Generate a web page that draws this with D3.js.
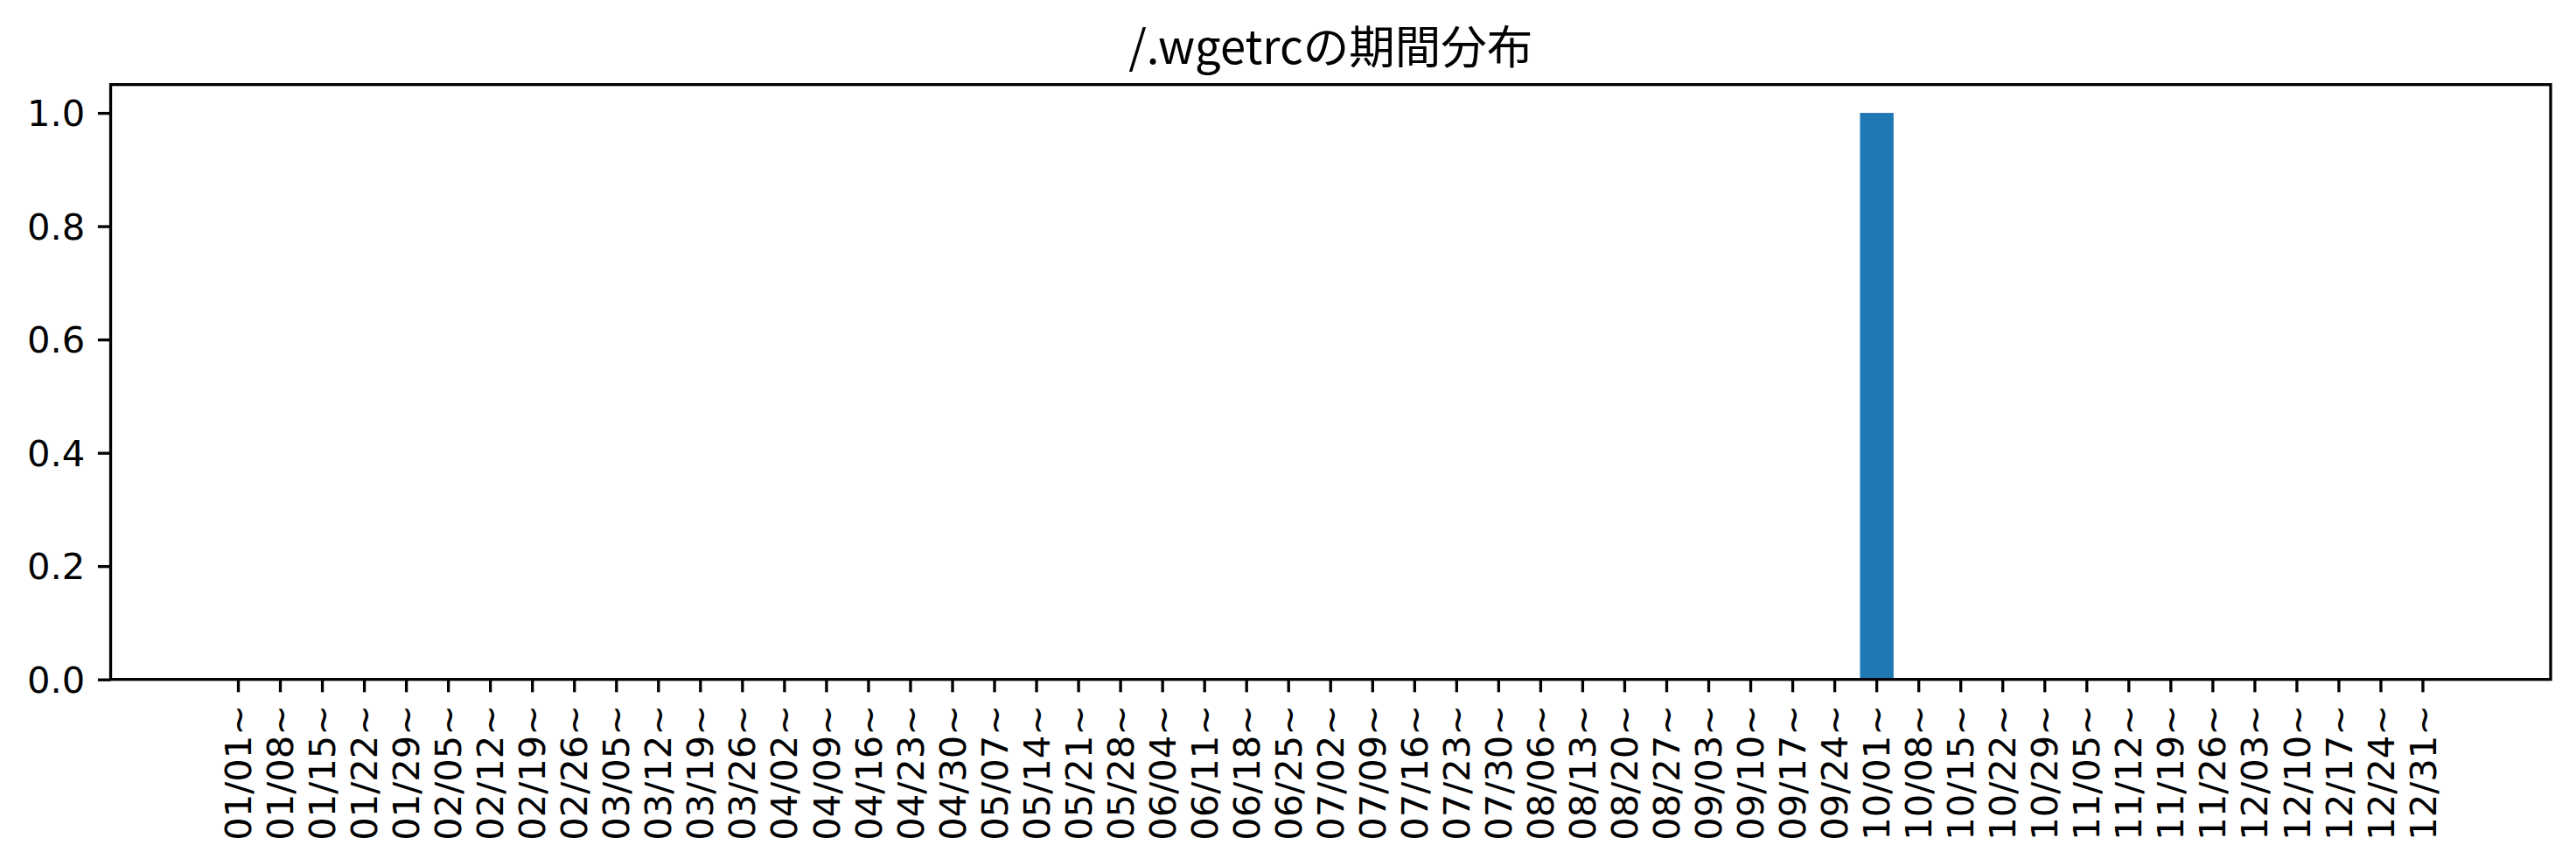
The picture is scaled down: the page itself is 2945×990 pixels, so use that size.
<!DOCTYPE html>
<html>
<head>
<meta charset="utf-8">
<script src="https://cdn.jsdelivr.net/npm/d3@7"></script>
<style>
  html, body { margin: 0; padding: 0; background: #fff; }
  svg { display: block; }
</style>
</head>
<body>
<script>
const titleText = "/.wgetrcの期間分布";
const categories = [
  "01/01~","01/08~","01/15~","01/22~","01/29~",
  "02/05~","02/12~","02/19~","02/26~",
  "03/05~","03/12~","03/19~","03/26~",
  "04/02~","04/09~","04/16~","04/23~","04/30~",
  "05/07~","05/14~","05/21~","05/28~",
  "06/04~","06/11~","06/18~","06/25~",
  "07/02~","07/09~","07/16~","07/23~","07/30~",
  "08/06~","08/13~","08/20~","08/27~",
  "09/03~","09/10~","09/17~","09/24~",
  "10/01~","10/08~","10/15~","10/22~","10/29~",
  "11/05~","11/12~","11/19~","11/26~",
  "12/03~","12/10~","12/17~","12/24~","12/31~"
];
const values = [
  0,0,0,0,0,
  0,0,0,0,
  0,0,0,0,
  0,0,0,0,0,
  0,0,0,0,
  0,0,0,0,
  0,0,0,0,0,
  0,0,0,0,
  0,0,0,0,
  1,0,0,0,0,
  0,0,0,0,
  0,0,0,0,0
];
const yTicks = [0, 0.2, 0.4, 0.6, 0.8, 1.0];

(function () {
const W = 2945, H = 990;
const pLeft = 126.5, pRight = 2916, pTop = 96.7, pBottom = 776.7;
const svg = d3.select("body").append("svg").attr("width", W).attr("height", H);

const x = d3.scaleBand().domain(categories).range([pLeft, pRight]).paddingInner(0.2).paddingOuter(2.64);
const y = d3.scaleLinear().domain([0, 1.05]).range([pBottom, pTop]);

const fontLatin = "'DejaVu Sans', sans-serif";
const fs = 41.67;

// bars
svg.append("g").selectAll("rect").data(values).join("rect")
  .attr("x", (d, i) => x(categories[i]))
  .attr("width", x.bandwidth())
  .attr("y", d => y(d))
  .attr("height", d => y(0) - y(d))
  .attr("fill", "#1f77b4");

// x axis
const xAxis = d3.axisBottom(x).tickSizeOuter(0).tickSize(14.6).tickPadding(14.6);
const gx = svg.append("g").attr("transform", `translate(0,${pBottom})`).call(xAxis);
gx.select(".domain").remove();
gx.selectAll(".tick line").attr("stroke", "#000").attr("stroke-width", 3.33);
gx.selectAll(".tick text")
  .attr("font-family", fontLatin).attr("font-size", fs).attr("fill", "#000")
  .attr("transform", "rotate(-90)")
  .attr("text-anchor", "end")
  .attr("x", -29.2).attr("y", 0).attr("dy", "0.35em");

// y axis
const yAxis = d3.axisLeft(y).tickValues(yTicks).tickFormat(d3.format(".1f")).tickSize(14.6).tickPadding(14.6).tickSizeOuter(0);
const gy = svg.append("g").attr("transform", `translate(${pLeft},0)`).call(yAxis);
gy.select(".domain").remove();
gy.selectAll(".tick line").attr("stroke", "#000").attr("stroke-width", 3.33);
gy.selectAll(".tick text")
  .attr("font-family", fontLatin).attr("font-size", fs).attr("fill", "#000").attr("dy", "0.35em");

// frame
svg.append("rect").attr("x", pLeft).attr("y", pTop).attr("width", pRight - pLeft).attr("height", pBottom - pTop)
  .attr("fill", "none").attr("stroke", "#000").attr("stroke-width", 3.33).attr("stroke-linejoin", "miter");

// title
svg.append("text").attr("x", (pLeft + pRight) / 2).attr("y", 73)
  .attr("text-anchor", "middle").attr("font-family", "'Noto Sans CJK JP', sans-serif")
  .attr("font-size", 52.5).attr("fill", "#000").text(titleText);
})();
</script>
</body>
</html>
